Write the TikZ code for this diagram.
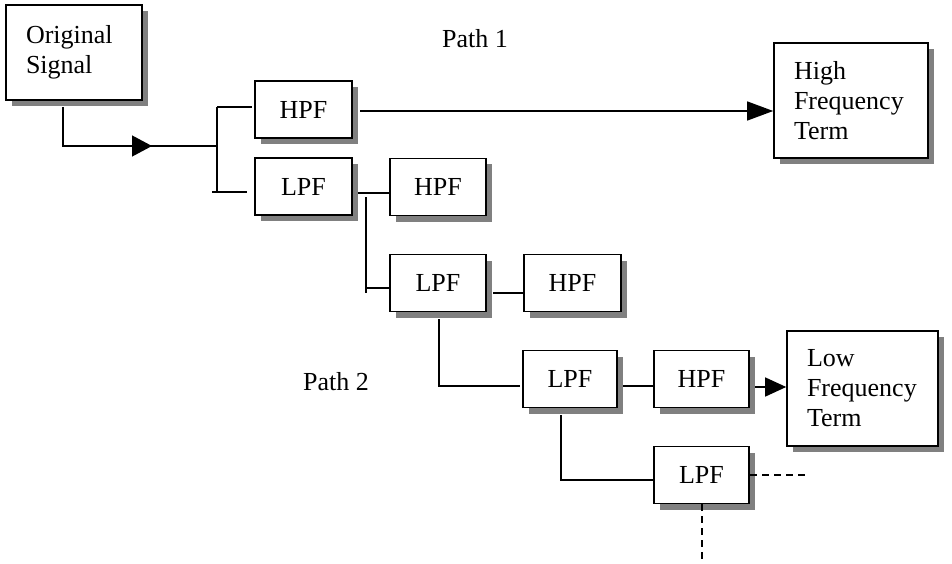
\documentclass[tikz,border=0pt]{standalone}
\usepackage{fontspec}
\setmainfont{Liberation Serif}
\usetikzlibrary{arrows.meta,shadows}
\tikzset{
  box/.style={draw=black, line width=1.6pt, fill=white, inner sep=0pt,
    drop shadow={shadow xshift=6pt, shadow yshift=-6pt, fill=gray, opacity=1},
    font=\fontsize{26}{30}\selectfont},
  filt/.style={box, minimum width=96pt, minimum height=57pt},
  conn/.style={line width=1.3pt},
  dashconn/.style={line width=1.3pt, dash pattern=on 7pt off 5pt},
  lbl/.style={font=\fontsize{26}{30}\selectfont, inner sep=0pt}
}
\begin{document}
\begin{tikzpicture}[x=1pt,y=-1pt]
\useasboundingbox (0,0) rectangle (952,564);
% nodes
\node[box, minimum width=136pt, minimum height=95pt, align=left, text width=96pt, inner xsep=20pt] (orig) at (74,52.5) {Original\\Signal};
\node[filt, minimum width=97pt] (hpf1) at (303.5,109.5) {HPF};
\node[filt, minimum width=97pt] (lpf1) at (303.5,186.5) {LPF};
\node[filt] (hpf2) at (438,187) {HPF};
\node[filt] (lpf2) at (438,283) {LPF};
\node[filt, minimum width=97pt] (hpf3) at (572.5,283) {HPF};
\node[filt, minimum width=94pt] (lpf3) at (570,379) {LPF};
\node[filt, minimum width=95pt] (hpf4) at (701.5,379) {HPF};
\node[filt, minimum width=95pt] (lpf4) at (701.5,475) {LPF};
\node[box, minimum width=154pt, minimum height=115pt, align=left, text width=114pt, inner xsep=20pt] (high) at (851,100.5) {High\\Frequency\\Term};
\node[box, minimum width=151pt, minimum height=115pt, align=left, text width=111pt, inner xsep=20pt] (low) at (862.5,388.5) {Low\\Frequency\\Term};
\node[lbl] (path1) at (475,39) {Path 1};
\node[lbl] (path2) at (336,382) {Path 2};
% helper coordinates
\coordinate (o1) at (63,107);
\coordinate (o2) at (63,146);
\coordinate (oa) at (152,146);
\coordinate (sj) at (217,146);
\coordinate (st) at (217,107);
\coordinate (sb) at (217,193);
\coordinate (sh) at (252,107);
\coordinate (sl0) at (212,192);
\coordinate (sl) at (247,192);
\coordinate (h1s) at (360,111);
\coordinate (l1s) at (358,193);
\coordinate (l1e) at (390,193);
\coordinate (v2t) at (366,197);
\coordinate (v2b) at (366,293);
\coordinate (v2j) at (366,288);
\coordinate (v2e) at (390,288);
\coordinate (l2s) at (493,293);
\coordinate (l2e) at (524,293);
\coordinate (v3t) at (439,319);
\coordinate (v3b) at (439,386);
\coordinate (v3e) at (520,386);
\coordinate (l3s) at (623,386);
\coordinate (l3e) at (654,386);
\coordinate (h4s) at (755,387);
\coordinate (v4t) at (561,415);
\coordinate (v4b) at (561,480);
\coordinate (v4e) at (654,480);
\coordinate (d1s) at (750,475);
\coordinate (d1e) at (807,475);
\coordinate (d2s) at (702,504);
\coordinate (d2e) at (702,562);
% connectors
\draw[conn] (o1) -- (o2) -- (sj);
\draw[conn, -{Triangle[length=20pt,width=21pt]}] (o2) -- (oa);
\draw[conn] (st) -- (sb);
\draw[conn] (st) -- (sh);
\draw[conn] (sl0) -- (sl);
\draw[conn, -{Triangle[length=26pt,width=19pt]}] (h1s) -- (high.west |- h1s);
\draw[conn] (l1s) -- (l1e);
\draw[conn] (v2t) -- (v2b);
\draw[conn] (v2j) -- (v2e);
\draw[conn] (l2s) -- (l2e);
\draw[conn] (v3t) -- (v3b) -- (v3e);
\draw[conn] (l3s) -- (l3e);
\draw[conn, -{Triangle[length=21pt,width=19pt]}] (h4s) -- (low.west |- h4s);
\draw[conn] (v4t) -- (v4b) -- (v4e);
\draw[dashconn] (d1s) -- (d1e);
\draw[dashconn] (d2s) -- (d2e);
\end{tikzpicture}
\end{document}
